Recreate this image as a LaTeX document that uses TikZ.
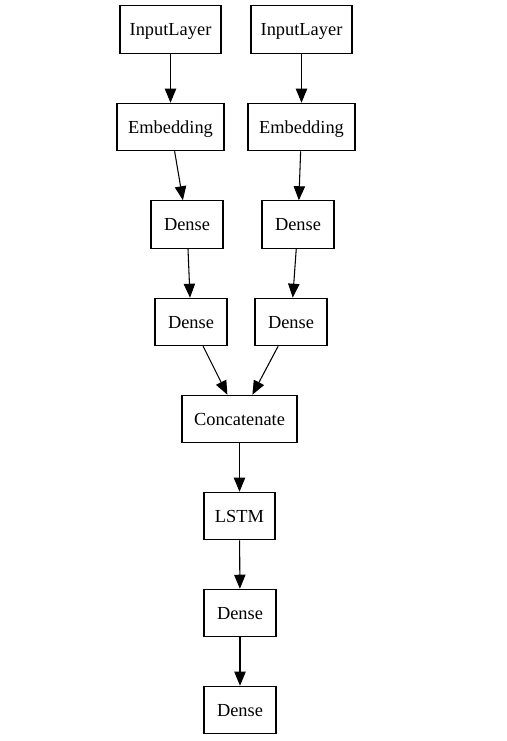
\documentclass[tikz,border=0pt]{standalone}
\usepackage{fontspec}
\setmainfont{Liberation Serif}
\usetikzlibrary{arrows.meta}
\tikzset{
  layer/.style={draw=black, line width=0.8pt, fill=white, align=center, font=\fontsize{13.8}{16}\selectfont, minimum height=35.6pt, inner sep=0pt, text depth=0pt, yshift=0pt},
  arrow/.style={-{Triangle[length=10.5pt, width=8.5pt]}, line width=0.8pt, draw=black},
}

\begin{document}
\begin{tikzpicture}[x=0.75pt, y=-0.75pt]
  \useasboundingbox (0,0) rectangle (506,741);
  % Two input branches
  \node[layer, minimum width=75.75pt] (inputl) at (170.5,29.5) {InputLayer};
  \node[layer, minimum width=75.75pt] (inputr) at (301.5,29.5) {InputLayer};
  \node[layer, minimum width=80.25pt] (embl) at (170.5,127) {Embedding};
  \node[layer, minimum width=80.25pt] (embr) at (301.5,127) {Embedding};
  \node[layer, minimum width=54pt] (densel1) at (187,224.5) {Dense};
  \node[layer, minimum width=54pt] (denser1) at (298,224.5) {Dense};
  \node[layer, minimum width=54pt] (densel2) at (191,322) {Dense};
  \node[layer, minimum width=54pt] (denser2) at (291,322) {Dense};
  % Merged trunk
  \node[layer, minimum width=86.25pt] (concat) at (239.5,419) {Concatenate};
  \node[layer, minimum width=53.25pt] (lstm) at (239.5,516) {LSTM};
  \node[layer, minimum width=54pt] (dense1) at (240,613) {Dense};
  \node[layer, minimum width=54pt] (dense2) at (240,710) {Dense};

  % Edges
  \draw[arrow] (inputl) -- (embl);
  \draw[arrow] (inputr) -- (embr);
  \draw[arrow] (embl) -- (densel1);
  \draw[arrow] (embr) -- (denser1);
  \draw[arrow] (densel1) -- (densel2);
  \draw[arrow] (denser1) -- (denser2);
  \draw[arrow] (densel2) -- (concat);
  \draw[arrow] (denser2) -- (concat);
  \draw[arrow] (concat) -- (lstm);
  \draw[arrow] (lstm) -- (dense1);
  \draw[arrow] (dense1) -- (dense2);
\end{tikzpicture}
\end{document}
